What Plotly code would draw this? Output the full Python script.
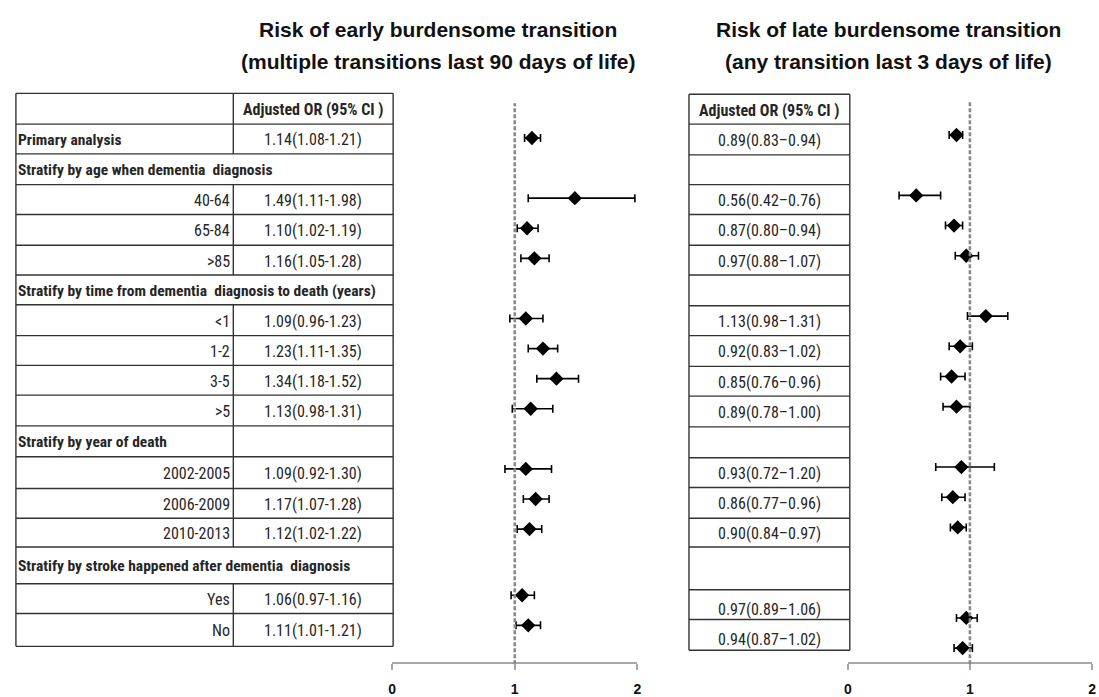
import plotly.graph_objects as go

W, H = 1099, 697

# ---------------- data ----------------
row_labels = [
    "Primary analysis",
    "Stratify by age when dementia  diagnosis",
    "40-64", "65-84", ">85",
    "Stratify by time from dementia  diagnosis to death (years)",
    "<1", "1-2", "3-5", ">5",
    "Stratify by year of death",
    "2002-2005", "2006-2009", "2010-2013",
    "Stratify by stroke happened after dementia  diagnosis",
    "Yes", "No",
]
heading_rows = [0, 1, 5, 10, 14]          # bold, left aligned
full_width_rows = [1, 5, 14]              # no column divider
estimate_rows = [0, 2, 3, 4, 6, 7, 8, 9, 11, 12, 13, 15, 16]

early_or = [1.14, 1.49, 1.10, 1.16, 1.09, 1.23, 1.34, 1.13, 1.09, 1.17, 1.12, 1.06, 1.11]
early_lo = [1.08, 1.11, 1.02, 1.05, 0.96, 1.11, 1.18, 0.98, 0.92, 1.07, 1.02, 0.97, 1.01]
early_hi = [1.21, 1.98, 1.19, 1.28, 1.23, 1.35, 1.52, 1.31, 1.30, 1.28, 1.22, 1.16, 1.21]

late_or = [0.89, 0.56, 0.87, 0.97, 1.13, 0.92, 0.85, 0.89, 0.93, 0.86, 0.90, 0.97, 0.94]
late_lo = [0.83, 0.42, 0.80, 0.88, 0.98, 0.83, 0.76, 0.78, 0.72, 0.77, 0.84, 0.89, 0.87]
late_hi = [0.94, 0.76, 0.94, 1.07, 1.31, 1.02, 0.96, 1.00, 1.20, 0.96, 0.97, 1.06, 1.02]

x_ticks = [0, 1, 2]
col_header = "Adjusted OR (95% CI )"
title_left = ["Risk of early burdensome transition", "(multiple transitions last 90 days of life)"]
title_right = ["Risk of late burdensome transition", "(any transition last 3 days of life)"]

# ---------------- layout constants ----------------
left_slots = [0, 2, 3, 4, 6, 7, 8, 9, 11, 12, 13, 15.2, 16.2]
right_slots = [0, 2, 3, 4, 6, 7, 8, 9, 11, 12, 13, 16, 17]

left_bounds = [94, 125, 155, 186, 216, 247, 277, 307, 338, 368, 398, 429, 460, 492, 522, 551, 588, 618, 651]
right_bounds = [95, 125, 156, 186, 216, 247, 277, 308, 338, 369, 399, 430, 461, 491, 522, 551, 594, 624, 655]
LX0, LXM, LX1 = 12, 231, 392
RX0, RX1 = 690, 852

AXIS_Y = 667
COND = "Roboto Condensed, DejaVu Sans Condensed, sans-serif"
TITLE_FONT = "Liberation Sans, Arial, sans-serif"
TXT = "#262626"
GRID = "#333333"


def px(x):
    return x / W


def py(y):
    return 1 - y / H


fig = go.Figure()

# forest plots
fig.add_trace(go.Scatter(
    x=early_or, y=left_slots, mode="markers", xaxis="x", yaxis="y",
    marker=dict(symbol="diamond", size=11, color="black"),
    error_x=dict(type="data", symmetric=False,
                 array=[h - o for h, o in zip(early_hi, early_or)],
                 arrayminus=[o - l for o, l in zip(early_or, early_lo)],
                 color="black", thickness=1.6, width=4),
    cliponaxis=False, showlegend=False, hoverinfo="x",
))
fig.add_trace(go.Scatter(
    x=late_or, y=right_slots, mode="markers", xaxis="x2", yaxis="y2",
    marker=dict(symbol="diamond", size=11, color="black"),
    error_x=dict(type="data", symmetric=False,
                 array=[h - o for h, o in zip(late_hi, late_or)],
                 arrayminus=[o - l for o, l in zip(late_or, late_lo)],
                 color="black", thickness=1.6, width=4),
    cliponaxis=False, showlegend=False, hoverinfo="x",
))

shapes = []
annotations = []

# reference lines at OR = 1
for xr, top in (("x", 104), ("x2", 102)):
    shapes.append(dict(type="line", xref=xr, yref="paper", x0=1, x1=1,
                       y0=py(AXIS_Y + 2), y1=py(top),
                       line=dict(color="#8a8a8a", width=2.6, dash="4px,2px")))


def hline(x0, x1, y):
    shapes.append(dict(type="line", xref="paper", yref="paper",
                       x0=px(x0), x1=px(x1), y0=py(y), y1=py(y),
                       line=dict(color=GRID, width=1.4)))


def vline(x, y0, y1):
    shapes.append(dict(type="line", xref="paper", yref="paper",
                       x0=px(x), x1=px(x), y0=py(y0), y1=py(y1),
                       line=dict(color=GRID, width=1.4)))


def text(x, y, s, anchor="center", bold=False, size=16, family=COND, color=TXT):
    annotations.append(dict(
        xref="paper", yref="paper", x=px(x), y=py(y), text=("<b>%s</b>" % s) if bold else s,
        xanchor=anchor, yanchor="middle", showarrow=False,
        font=dict(family=family, size=size, color=color)))


# ---- left table ----
for b in left_bounds:
    hline(LX0, LX1, b)
vline(LX0, left_bounds[0], left_bounds[-1])
vline(LX1, left_bounds[0], left_bounds[-1])
nrows = len(left_bounds) - 1
for r in range(nrows):
    data_row = r - 1  # row 0 is the header
    if data_row in full_width_rows:
        continue
    vline(LXM, left_bounds[r], left_bounds[r + 1])


def row_center(bounds, r):
    return (bounds[r] + bounds[r + 1]) / 2 + 1


text((LXM + LX1) / 2, row_center(left_bounds, 0), col_header, bold=True, size=16)
for i, lab in enumerate(row_labels):
    yc = row_center(left_bounds, i + 1)
    if i in heading_rows:
        text(LX0 + 0.5, yc, lab, anchor="left", bold=True, size=15.5)
    else:
        text(LXM - 1.5, yc, lab, anchor="right", size=16)
for k, r in enumerate(estimate_rows):
    yc = row_center(left_bounds, r + 1)
    text((LXM + LX1) / 2, yc, "%.2f(%.2f-%.2f)" % (early_or[k], early_lo[k], early_hi[k]), size=16)

# ---- right table ----
for b in right_bounds:
    hline(RX0, RX1, b)
vline(RX0, right_bounds[0], right_bounds[-1])
vline(RX1, right_bounds[0], right_bounds[-1])
text((RX0 + RX1) / 2, row_center(right_bounds, 0), col_header, bold=True, size=16)
for k, r in enumerate(estimate_rows):
    yc = row_center(right_bounds, r + 1) + (4 if r >= 15 else 0)
    text((RX0 + RX1) / 2, yc, "%.2f(%.2f\u2013%.2f)" % (late_or[k], late_lo[k], late_hi[k]), size=16)

# ---- titles ----
for (cx, lines) in ((437, title_left), (891, title_right)):
    for j, ln in enumerate(lines):
        text(cx, 30 + 32 * j, ln, bold=True, size=21, family=TITLE_FONT, color="#111111")

# ---- axes ----
y_dom = [1 - AXIS_Y / H, 1]
left_pix0, left_pitch = 139, 30.3
right_pix0, right_pitch = 136, 30.4

axis_common = dict(range=[0, 2], tickvals=x_ticks, ticktext=[str(t) for t in x_ticks],
                   showgrid=False, zeroline=False, showline=True,
                   linecolor="#a8a8a8", linewidth=1.6, ticks="outside", ticklen=6,
                   tickwidth=1.6, tickcolor="#a8a8a8", ticklabelstandoff=7,
                   tickfont=dict(family="Liberation Sans, Arial, sans-serif", size=14,
                                 color="#111111", weight="bold"),
                   fixedrange=True)

fig.update_layout(
    width=W, height=H,
    margin=dict(l=0, r=0, t=0, b=0),
    paper_bgcolor="white", plot_bgcolor="white",
    xaxis=dict(domain=[px(391), px(638)], anchor="y", **axis_common),
    xaxis2=dict(domain=[px(850), px(1096)], anchor="y2", **axis_common),
    yaxis=dict(domain=y_dom, range=[(AXIS_Y - left_pix0) / left_pitch, -left_pix0 / left_pitch],
               visible=False, fixedrange=True),
    yaxis2=dict(domain=y_dom, range=[(AXIS_Y - right_pix0) / right_pitch, -right_pix0 / right_pitch],
                visible=False, fixedrange=True, anchor="x2"),
    shapes=shapes,
    annotations=annotations,
)

fig.write_html("out.html")
